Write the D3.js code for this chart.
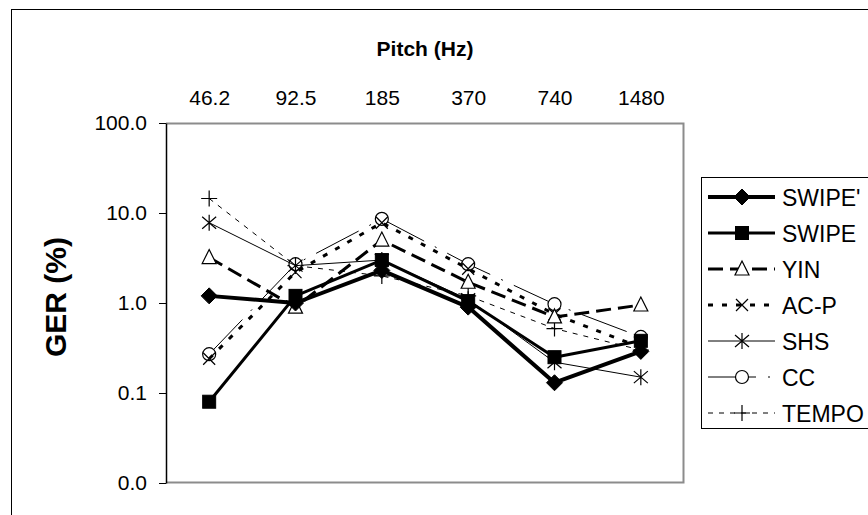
<!DOCTYPE html>
<html>
<head>
<meta charset="utf-8">
<script src="https://cdn.jsdelivr.net/npm/d3@7/dist/d3.min.js"></script>
<style>
  html, body { margin: 0; padding: 0; background: #fff; }
  svg { display: block; font-family: "Liberation Sans", Arial, sans-serif; }
</style>
</head>
<body>
<svg id="chart" width="868" height="515"></svg>
<script>
// Pitch categories (Hz) shown along the top
const pitches = ["46.2", "92.5", "185", "370", "740", "1480"];
const yTicks = [0.01, 0.1, 1, 10, 100];

// Gross error rate (%) per method
const swipePrime = [1.2, 1.0, 2.3, 0.9, 0.13, 0.29];
const swipe      = [0.08, 1.2, 3.0, 1.05, 0.25, 0.38];
const yin        = [3.2, 0.9, 5.0, 1.7, 0.7, 0.95];
const acp        = [0.24, 2.2, 7.8, 2.4, 0.75, 0.32];
const shs        = [7.8, 2.6, 3.0, 1.1, 0.22, 0.15];
const cc         = [0.27, 2.7, 8.6, 2.7, 0.97, 0.42];
const tempo      = [14.5, 2.6, 2.0, 1.2, 0.52, 0.30];

const seriesNames = ["SWIPE'", "SWIPE", "YIN", "AC-P", "SHS", "CC", "TEMPO"];
const seriesValues = [swipePrime, swipe, yin, acp, shs, cc, tempo];

// Line and marker styling per method
const styles = [
  { width: 4,   dash: null,          marker: "diamond" },
  { width: 3,   dash: null,          marker: "square" },
  { width: 3,   dash: "15,7",        marker: "triangle" },
  { width: 3,   dash: "5,9",         marker: "x" },
  { width: 1,   dash: null,          marker: "asterisk" },
  { width: 1,   dash: "48,12,2,12",  marker: "circle" },
  { width: 1,   dash: "5,6",         marker: "plus" }
];

const svg = d3.select("#chart");
const W = 868, H = 515;
const plot = { left: 166, right: 684, top: 123, bottom: 483 };

// outer chart frame
svg.append("rect").attr("x", 11.5).attr("y", 9.5)
  .attr("width", W + 20).attr("height", H + 20)
  .attr("fill", "none").attr("stroke", "#000").attr("stroke-width", 1);

const x = d3.scalePoint().domain(pitches).range([plot.left, plot.right]).padding(0.5);
const y = d3.scaleLog().domain([0.01, 100]).range([plot.bottom, plot.top]);

// plot-area border (gray)
svg.append("path")
  .attr("d", `M${plot.left},${plot.top + 0.5}H${plot.right - 0.5}V${plot.bottom - 0.5}H${plot.left}`)
  .attr("fill", "none").attr("stroke", "#8c8c8c").attr("stroke-width", 2);

// y axis
const yAxis = svg.append("g")
  .attr("transform", `translate(${plot.left},0)`)
  .call(d3.axisLeft(y).tickValues(yTicks).tickFormat(d3.format(".1f")).tickSize(7).tickSizeOuter(0).tickPadding(12));
yAxis.select(".domain").attr("stroke", "#000").attr("stroke-width", 1.5);
yAxis.selectAll(".tick line").attr("stroke", "#000");
yAxis.selectAll("text").attr("font-size", 21).attr("fill", "#000");

// top category labels
const xAxis = svg.append("g")
  .attr("transform", `translate(0,${plot.top - 18})`)
  .call(d3.axisTop(x).tickSize(0).tickPadding(0));
xAxis.select(".domain").remove();
xAxis.selectAll("text").attr("font-size", 21).attr("fill", "#000");

// titles
svg.append("text").attr("x", 425).attr("y", 56).attr("text-anchor", "middle")
  .attr("font-size", 21).attr("font-weight", "bold").text("Pitch (Hz)");
svg.append("text").attr("transform", "translate(66,297) rotate(-90)")
  .attr("text-anchor", "middle").attr("font-size", 30).attr("font-weight", "bold").text("GER (%)");

// marker drawing
function drawMarker(g, type, cx, cy) {
  const s = 7;
  switch (type) {
    case "diamond":
      g.append("path").attr("d", `M${cx},${cy - s - 1}L${cx + s + 1},${cy}L${cx},${cy + s + 1}L${cx - s - 1},${cy}Z`)
        .attr("fill", "#000").attr("stroke", "#000");
      break;
    case "square":
      g.append("rect").attr("x", cx - 6.5).attr("y", cy - 6.5).attr("width", 13).attr("height", 13)
        .attr("fill", "#000").attr("stroke", "#000");
      break;
    case "triangle":
      g.append("path").attr("d", `M${cx},${cy - 8}L${cx + 7},${cy + 6}L${cx - 7},${cy + 6}Z`)
        .attr("fill", "#fff").attr("stroke", "#000").attr("stroke-width", 1.2);
      break;
    case "x":
      g.append("path").attr("d", `M${cx - 6},${cy - 6}L${cx + 6},${cy + 6}M${cx + 6},${cy - 6}L${cx - 6},${cy + 6}`)
        .attr("stroke", "#000").attr("stroke-width", 1.2);
      break;
    case "asterisk":
      g.append("path").attr("d", `M${cx - 7},${cy - 6}L${cx + 7},${cy + 6}M${cx + 7},${cy - 6}L${cx - 7},${cy + 6}M${cx},${cy - 8}V${cy + 8}`)
        .attr("stroke", "#000").attr("stroke-width", 1.2);
      break;
    case "circle":
      g.append("circle").attr("cx", cx).attr("cy", cy).attr("r", 6.5)
        .attr("fill", "#fff").attr("stroke", "#000").attr("stroke-width", 1.2);
      break;
    case "plus":
      g.append("path").attr("d", `M${cx - 8},${cy}H${cx + 8}M${cx},${cy - 8}V${cy + 8}`)
        .attr("stroke", "#000").attr("stroke-width", 1.2);
      break;
  }
}

const line = d3.line().x((d, i) => x(pitches[i])).y(d => y(d));

// later series first, so SWIPE' ends up on top
const order = d3.range(seriesNames.length).reverse();
order.forEach(k => {
  const g = svg.append("g").attr("class", "series");
  g.append("path").datum(seriesValues[k]).attr("d", line)
    .attr("fill", "none").attr("stroke", "#000")
    .attr("stroke-width", styles[k].width)
    .attr("stroke-dasharray", styles[k].dash)
    .attr("stroke-linejoin", "round");
  seriesValues[k].forEach((v, i) => drawMarker(g, styles[k].marker, x(pitches[i]), y(v)));
});

// legend
const leg = { left: 701, top: 177, bottom: 428, row: 36, first: 20 };
svg.append("rect").attr("x", leg.left + 0.5).attr("y", leg.top + 0.5)
  .attr("width", 200).attr("height", leg.bottom - leg.top)
  .attr("fill", "#fff").attr("stroke", "#000").attr("stroke-width", 1);

seriesNames.forEach((name, k) => {
  const cy = leg.top + leg.first + k * leg.row;
  const g = svg.append("g");
  g.append("line").attr("x1", leg.left + 7).attr("x2", leg.left + 74)
    .attr("y1", cy).attr("y2", cy)
    .attr("stroke", "#000").attr("stroke-width", styles[k].width)
    .attr("stroke-dasharray", styles[k].dash);
  drawMarker(g, styles[k].marker, leg.left + 41, cy);
  g.append("text").attr("x", leg.left + 81).attr("y", cy + 8.5)
    .attr("font-size", 23).text(name);
});
</script>
</body>
</html>
